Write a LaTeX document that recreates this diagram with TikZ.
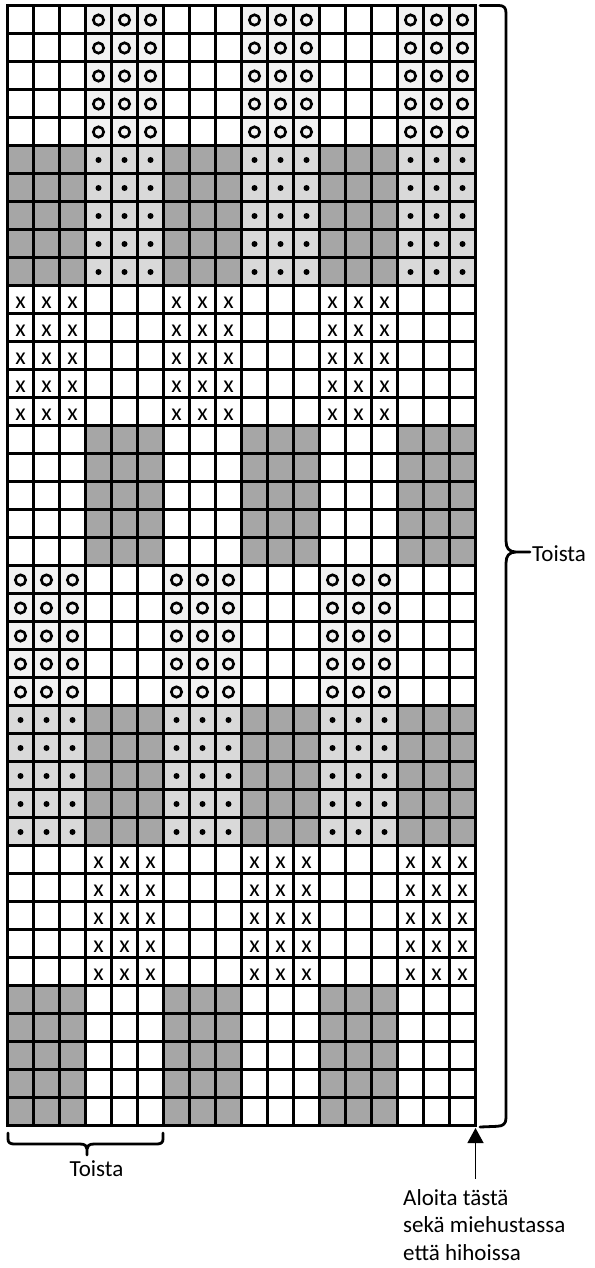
\documentclass[tikz,border=0pt]{standalone}
\usepackage{fontspec}
\setmainfont{Carlito}
\usetikzlibrary{arrows.meta,positioning,calc}

\definecolor{ringfill}{HTML}{F2F2F2}
\definecolor{dotfill}{HTML}{D9D9D9}
\definecolor{darkfill}{HTML}{A6A6A6}

\begin{document}
\begin{tikzpicture}[x=1pt,y=-1pt,>={Triangle[width=16pt,length=15pt]},
  gridline/.style={line width=2.4pt,black},
  bracel/.style={line width=2.8pt,line join=round,line cap=round},
  ringsym/.style={draw,line width=2.6pt},
  xsym/.style={font=\fontsize{24}{28}\selectfont,inner sep=0pt,yshift=-3.5pt},
  lbl/.style={font=\fontsize{23}{27.5}\selectfont,inner sep=0pt}]
\useasboundingbox (0,0) rectangle (594,1268);
% dark blocks (group of 3 stitches / band of 5 rows)
\foreach \g/\b in {0/1,2/1,4/1,1/3,3/3,5/3,1/5,3/5,5/5,0/7,2/7,4/7}
  \fill[darkfill] ({7.5+78*\g},{5.5+140*\b}) rectangle ++(78,140);
% dotted blocks
\foreach \g/\b in {1/1,3/1,5/1,0/5,2/5,4/5}{
  \fill[dotfill] ({7.5+78*\g},{5.5+140*\b}) rectangle ++(78,140);
  \foreach \i in {0,1,2} \foreach \j in {0,...,4}
    \fill ({20.5+78*\g+26*\i},{20+140*\b+28*\j}) circle (3pt);
}
% ring blocks
\foreach \g/\b in {1/0,3/0,5/0,0/4,2/4,4/4}{
  \fill[ringfill] ({7.5+78*\g},{5.5+140*\b}) rectangle ++(78,140);
  \foreach \i in {0,1,2} \foreach \j in {0,...,4}
    \draw[ringsym] ({20.5+78*\g+26*\i},{20+140*\b+28*\j}) circle (5.2pt);
}
% x blocks
\foreach \g/\b in {0/2,2/2,4/2,1/6,3/6,5/6}
  \foreach \i in {0,1,2} \foreach \j in {0,...,4}
    \node[xsym] at ({20.5+78*\g+26*\i},{19.5+140*\b+28*\j}) {x};
% grid
\foreach \c in {1,...,17} \draw[gridline] ({7.5+26*\c},5.5) -- ++(0,1120);
\foreach \r in {1,...,39} \draw[gridline] (7.5,{5.5+28*\r}) -- ++(468,0);
\draw[gridline] (7.5,5.5) rectangle (475.5,1125.5);
\coordinate (gridSE) at (475.5,1125.5);

% braces
\draw[bracel] (480,5.5) -- (499,5.5) .. controls (504,5.5) and (506,8) .. (506,13)
  -- (506,541) .. controls (506,548) and (509,552) .. (516,552) -- (530,552)
  -- (516,552) .. controls (509,552) and (506,556) .. (506,563)
  -- (506,1118) .. controls (506,1124) and (503,1126) .. (497,1126.3) -- (480,1127);
\node[lbl,anchor=base west] (repR) at (532,561) {Toista};
\draw[bracel] (8,1133) -- (8,1139) .. controls (8,1142.5) and (10,1144) .. (14,1144)
  -- (80,1144) .. controls (85,1144) and (87,1146) .. (87,1149) -- (87,1155)
  -- (87,1149) .. controls (87,1146) and (89,1144) .. (94,1144)
  -- (157,1144) .. controls (161,1144) and (163,1142.5) .. (163,1139) -- (163,1133);
\node[lbl,anchor=base] (repB) at (96.5,1176) {Toista};

% start note
\node[lbl,anchor=base west,align=left] (start) at (403,1260)
  {Aloita tästä\\sekä miehustassa\\että hihoissa};
\draw[->,line width=1.3pt] ($(start.north -| gridSE)+(0,-10)$) -- ([yshift=-2.5pt]gridSE);
\end{tikzpicture}
\end{document}
